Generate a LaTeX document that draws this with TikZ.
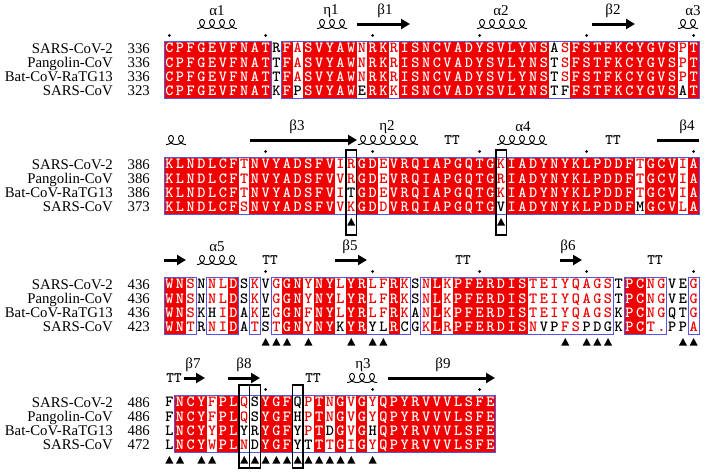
\documentclass[tikz,border=0pt]{standalone}
\usepackage{fontspec}
\usepackage{xstring}
\setmainfont{Liberation Serif}
\usetikzlibrary{arrows.meta}

\definecolor{espred}{RGB}{240,0,0}
\definecolor{espblue}{RGB}{85,85,230}

% one row: block, box top, row, residues, codes (R red cell, r red letter, k black letter)
\newcommand{\alnrow}[5]{%
  \StrDel{#5}{|}[\alncode]%
  \StrLen{#4}[\alnlen]%
  \pgfmathsetmacro{\ry}{#2+7.15+14.3*#3}%
  \foreach \i in {1,...,\alnlen}{%
    \StrChar{#4}{\i}[\ch]%
    \StrChar{\alncode}{\i}[\cd]%
    \pgfmathsetmacro{\cx}{158.65+10.7*\i}%
    \if R\cd
      \fill[espred] (\cx-5.5,\ry-7.3) rectangle (\cx+5.5,\ry+7.3);
      \node[res,text=white] (s#1-#3-\i) at (\cx,\ry) {\ch};
    \else\if r\cd
      \node[res,text=espred] (s#1-#3-\i) at (\cx,\ry) {\ch};
    \else
      \node[res] (s#1-#3-\i) at (\cx,\ry) {\ch};
    \fi\fi}}

\newcommand{\helix}[3]{%
  \pgfmathsetmacro{\hend}{(2*#2-1)*pi}%
  \pgfmathtruncatemacro{\hsamp}{28*#2+1}%
  \draw[helixline] plot[domain=-pi:\hend,samples=\hsamp,smooth,variable=\hh]
    ({#1+1.5915*(\hh+pi)-4.6*sin(\hh r)},{#3-4.5*cos(\hh r)});}

\newcommand{\contact}[2]{%
  \fill ({158.65+10.7*#2-4},#1+68.5) -- ++(8,0) -- ++(-4,-7.5) -- cycle;}

\begin{document}
\begin{tikzpicture}[x=1pt,y=-1pt,
  res/.style={inner sep=0pt,text height=9.5pt,text depth=0pt,
    font=\ttfamily\bfseries\fontsize{15.5}{15.5}\selectfont},
  seqname/.style={anchor=east,inner sep=0pt,text height=9.8pt,text depth=0pt,
    font=\fontsize{14.8}{15}\selectfont},
  sslabel/.style={inner sep=0pt,font=\fontsize{15}{15}\selectfont},
  tturn/.style={inner sep=0pt,text height=9pt,text depth=0pt,
    font=\ttfamily\bfseries\fontsize{14.5}{14.5}\selectfont},
  simbox/.style={draw=espblue,line width=0.9pt},
  strand/.style={line width=3pt,-{Triangle[length=9pt,width=10pt]}},
  helixline/.style={line width=0.9pt},
  sitebox/.style={draw,line width=1.6pt}]
\useasboundingbox (0,0) rectangle (709,474);

\foreach \blk/\yt/\na/\nb/\nc/\nd in {1/41/336/336/336/323,2/157/386/386/386/373,
    3/277/436/436/436/423,4/395/486/486/486/472}{
  \foreach \nm/\num [count=\r from 0] in {SARS-CoV-2/\na,Pangolin-CoV/\nb,
      Bat-CoV-RaTG13/\nc,SARS-CoV/\nd}{
    \node[seqname] (n\blk-\r) at (113,\yt+7.15+14.3*\r) {\nm};
    \node[seqname] (p\blk-\r) at (150,\yt+7.15+14.3*\r) {\num};
  }
}

\alnrow{1}{41}{0}{CPFGEVFNATRFASVYAWNRKRISNCVADYSVLYNSASFSTFKCYGVSPT}{RRRRRRRRRR|kRrRRRRRrR|RrRRRRRRRR|RRRRRRkrRR|RRRRRRRRrR}
\alnrow{1}{41}{1}{CPFGEVFNATTFASVYAWNRKRISNCVADYSVLYNSTSFSTFKCYGVSPT}{RRRRRRRRRR|kRrRRRRRrR|RrRRRRRRRR|RRRRRRkrRR|RRRRRRRRrR}
\alnrow{1}{41}{2}{CPFGEVFNATTFASVYAWNRKRISNCVADYSVLYNSTSFSTFKCYGVSPT}{RRRRRRRRRR|kRrRRRRRrR|RrRRRRRRRR|RRRRRRkrRR|RRRRRRRRrR}
\alnrow{1}{41}{3}{CPFGEVFNATKFPSVYAWERKKISNCVADYSVLYNSTFFSTFKCYGVSAT}{RRRRRRRRRR|kRkRRRRRkR|RrRRRRRRRR|RRRRRRkkRR|RRRRRRRRkR}

\alnrow{2}{157}{0}{KLNDLCFTNVYADSFVIRGDEVRQIAPGQTGKIADYNYKLPDDFTGCVIA}{RRRRRRRrRR|RRRRRRrrRR|rRRRRRRRRR|RrRRRRRRRR|RRRRrRRRrR}
\alnrow{2}{157}{1}{KLNDLCFTNVYADSFVVRGDEVRQIAPGQTGRIADYNYKLPDDFTGCVIA}{RRRRRRRrRR|RRRRRRrrRR|rRRRRRRRRR|RrRRRRRRRR|RRRRrRRRrR}
\alnrow{2}{157}{2}{KLNDLCFTNVYADSFVITGDEVRQIAPGQTGKIADYNYKLPDDFTGCVIA}{RRRRRRRrRR|RRRRRRrkRR|rRRRRRRRRR|RrRRRRRRRR|RRRRrRRRrR}
\alnrow{2}{157}{3}{KLNDLCFSNVYADSFVVKGDDVRQIAPGQTGVIADYNYKLPDDFMGCVLA}{RRRRRRRrRR|RRRRRRrrRR|rRRRRRRRRR|RkRRRRRRRR|RRRRkRRRrR}

\alnrow{3}{277}{0}{WNSNNLDSKVGGNYNYLYRLFRKSNLKPFERDISTEIYQAGSTPCNGVEG}{RRrkrrRkrk|rRRrRRrRRr|rRrkrRrRRR|RRRRrrrrrr|rrkRRrrkkr}
\alnrow{3}{277}{1}{WNSNNLDSKVGGNYNYLYRLFRKSNLKPFERDISTEIYQAGSTPCNGVEG}{RRrkrrRkrk|rRRrRRrRRr|rRrkrRrRRR|RRRRrrrrrr|rrkRRrrkkr}
\alnrow{3}{277}{2}{WNSKHIDAKEGGNFNYLYRLFRKANLKPFERDISTEIYQAGSKPCNGQTG}{RRrkkrRkrk|rRRrRRrRRr|rRrkrRrRRR|RRRRrrrrrr|rrkRRrrkkr}
\alnrow{3}{277}{3}{WNTRNIDATSTGNYNYKYRYLRCGKLRPFERDISNVPFSPDGKPCT.PPA}{RRrkrrRkrk|rRRrRRkRRk|kRkkrRrRRR|RRRRrkkrrk|kkkRRrrkkr}

\alnrow{4}{395}{0}{FNCYFPLQSYGFQPTNGVGYQPYRVVVLSFE}{kRRRrRRrkR|RRkrRrRrRr|RRRRRRRRRRR}
\alnrow{4}{395}{1}{FNCYFPLQSYGFHPTNGVGYQPYRVVVLSFE}{kRRRrRRrkR|RRkrRrRrRr|RRRRRRRRRRR}
\alnrow{4}{395}{2}{LNCYYPLYRYGFYPTDGVGHQPYRVVVLSFE}{kRRRrRRkkR|RRkrRkRrRk|RRRRRRRRRRR}
\alnrow{4}{395}{3}{LNCYWPLNDYGFYTTTGIGYQPYRVVVLSFE}{kRRRrRRrkR|RRkkRrRrRr|RRRRRRRRRRR}

\foreach \yt/\a/\e in {41/1/10,41/12/50,157/1/50,277/1/3,277/5/7,277/9/9,277/11/23,
    277/25/42,277/44/47,277/50/50,395/2/31}
  \draw[simbox] ({164+10.7*(\a-1)},\yt) rectangle ({164+10.7*\e},\yt+57.2);

\foreach \yt/\col/\fa/\fb in {157/18/7/78,157/32/7/78,395/8/10/73,395/9/10/73,395/13/10/73}
  \draw[sitebox] ({164+10.7*(\col-1)},\yt-\fa) rectangle ({164+10.7*\col},\yt+\fb);

\foreach \col in {18,32} \contact{157}{\col};
\foreach \col in {10,11,12,14,18,20,21,38,40,41,42,49,50} \contact{277}{\col};
\foreach \col in {1,2,4,5,8,9,10,11,12,13,14,15,16,17,18,20} \contact{395}{\col};

\foreach \yt/\col in {41/1,41/10,41/20,41/30,41/40,41/50,157/10,157/20,157/30,157/40,
    157/50,277/10,277/20,277/30,277/40,277/50,395/10,395/20,395/30}
  \fill ({158.65+10.7*\col},\yt-5.5) circle (1.5pt);

% secondary structure
\helix{197}{4}{24}
\node[sslabel] (a1) at (217,11) {α1};
\helix{317}{3}{24}
\node[sslabel] (e1) at (331,11) {η1};
\draw[strand] (357,24) -- (410,24);
\node[sslabel] (b1) at (385,11) {β1};
\helix{477}{5}{24}
\node[sslabel] (a2) at (501,11) {α2};
\draw[strand] (592,24) -- (635,24);
\node[sslabel] (b2) at (613,11) {β2};
\helix{678}{2}{24}
\node[sslabel] (a3) at (693,11) {α3};

\helix{166}{2}{140}
\draw[strand] (250,140) -- (357,140);
\node[sslabel] (b3) at (297,127) {β3};
\helix{358}{6}{140}
\node[sslabel] (e2) at (387,127) {η2};
\node[tturn] (t1) at (452,140) {TT};
\helix{497}{5}{140}
\node[sslabel] (a4) at (523,127) {α4};
\node[tturn] (t2) at (613,140) {TT};
\draw[line width=3pt] (657,140) -- (699,140);
\node[sslabel] (b4) at (687,127) {β4};

\draw[strand] (164,260) -- (186,260);
\helix{197}{4}{260}
\node[sslabel] (a5) at (217,247) {α5};
\node[tturn] (t3) at (270,260) {TT};
\draw[strand] (335,260) -- (367,260);
\node[sslabel] (b5) at (350,247) {β5};
\node[tturn] (t4) at (463,260) {TT};
\draw[strand] (560,260) -- (582,260);
\node[sslabel] (b6) at (568,247) {β6};
\node[tturn] (t5) at (655,260) {TT};

\node[tturn] (t6) at (174,378) {TT};
\draw[strand] (184,378) -- (205,378);
\node[sslabel] (b7) at (193,365) {β7};
\draw[strand] (228,378) -- (260,378);
\node[sslabel] (b8) at (244,365) {β8};
\node[tturn] (t7) at (313,378) {TT};
\helix{347}{3}{378}
\node[sslabel] (e3) at (363,365) {η3};
\draw[strand] (388,378) -- (495,378);
\node[sslabel] (b9) at (443,365) {β9};
\end{tikzpicture}
\end{document}
